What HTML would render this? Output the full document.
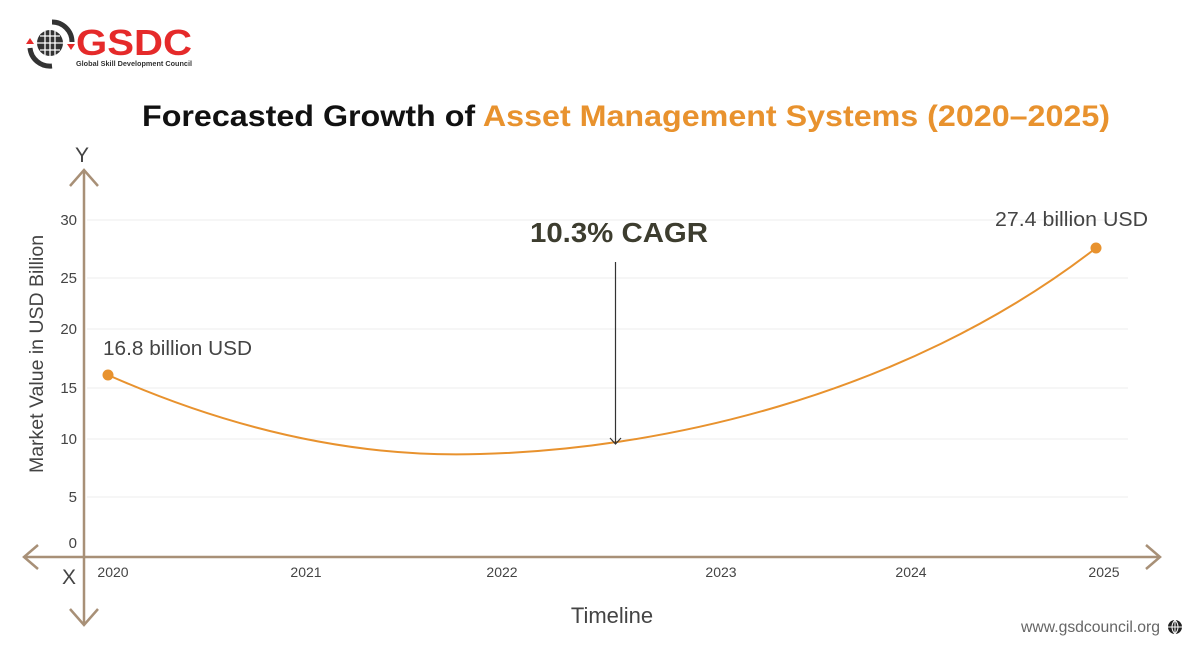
<!DOCTYPE html>
<html><head><meta charset="utf-8"><style>
html,body{margin:0;padding:0;background:#fff;}
body{width:1200px;height:650px;overflow:hidden;font-family:"Liberation Sans",sans-serif;}
</style></head><body>
<svg width="1200" height="650" viewBox="0 0 1200 650" xmlns="http://www.w3.org/2000/svg" font-family="Liberation Sans, sans-serif">
<!-- logo -->
<g>
<path d="M52,22 A20,20 0 0 1 72,42" fill="none" stroke="#333" stroke-width="5"/>
<path d="M30,48 A20,20 0 0 0 52,66" fill="none" stroke="#333" stroke-width="5"/>
<circle cx="50" cy="43" r="13" fill="#333"/>
<path d="M37,43h26M50,30v26M40,36h20M40,50h20M45,31v24M55,31v24" stroke="#fff" stroke-width="1.3" fill="none"/>
<polygon points="26,44 30,38 34,44" fill="#e52a2a"/>
<polygon points="67,44 75,44 71,50" fill="#e52a2a"/>
<text x="76" y="55" font-size="36" font-weight="bold" fill="#e52a2a" textLength="116" lengthAdjust="spacingAndGlyphs">GSDC</text>
<text x="76" y="66" font-size="7.5" font-weight="bold" fill="#333" textLength="116" lengthAdjust="spacingAndGlyphs">Global Skill Development Council</text>
</g>
<!-- title -->
<text x="142" y="126" font-size="30" font-weight="bold" fill="#111" textLength="968" lengthAdjust="spacingAndGlyphs">Forecasted Growth of <tspan fill="#e8922e">Asset Management Systems (2020–2025)</tspan></text>
<!-- gridlines -->
<g stroke="#ececec" stroke-width="1">
<line x1="87" y1="220" x2="1128" y2="220"/>
<line x1="87" y1="278" x2="1128" y2="278"/>
<line x1="87" y1="329" x2="1128" y2="329"/>
<line x1="87" y1="388" x2="1128" y2="388"/>
<line x1="87" y1="439" x2="1128" y2="439"/>
<line x1="87" y1="497" x2="1128" y2="497"/>
</g>
<!-- axes -->
<g stroke="#a89077" stroke-width="2.5" fill="none">
<line x1="84" y1="172" x2="84" y2="623"/>
<line x1="24" y1="557" x2="1160" y2="557"/>
<polyline points="70,186 84,170 98,186"/>
<polyline points="70,609 84,625 98,609"/>
<polyline points="38,545 24,557 38,569"/>
<polyline points="1146,545 1160,557 1146,569"/>
</g>
<text x="75" y="162" font-size="21" fill="#444">Y</text>
<text x="62" y="584" font-size="21" fill="#444">X</text>
<!-- y ticks -->
<g font-size="15" fill="#444" text-anchor="end">
<text x="77" y="225">30</text>
<text x="77" y="283">25</text>
<text x="77" y="334">20</text>
<text x="77" y="393">15</text>
<text x="77" y="444">10</text>
<text x="77" y="502">5</text>
<text x="77" y="548">0</text>
</g>
<text transform="translate(43,354) rotate(-90)" font-size="19.5" fill="#444" text-anchor="middle">Market Value in USD Billion</text>
<!-- x ticks -->
<g font-size="14" fill="#444" text-anchor="middle">
<text x="113" y="577">2020</text>
<text x="306" y="577">2021</text>
<text x="502" y="577">2022</text>
<text x="721" y="577">2023</text>
<text x="911" y="577">2024</text>
<text x="1104" y="577">2025</text>
</g>
<text x="612" y="623" font-size="22" fill="#444" text-anchor="middle">Timeline</text>
<!-- curve -->
<path d="M108,375 Q300,460 480,454 C650,450 900,400 1096,248" fill="none" stroke="#e8922e" stroke-width="2"/>
<circle cx="108" cy="375" r="5.5" fill="#e8922e"/>
<circle cx="1096" cy="248" r="5.5" fill="#e8922e"/>
<text x="103" y="355" font-size="20" fill="#444" textLength="149" lengthAdjust="spacingAndGlyphs">16.8 billion USD</text>
<text x="995" y="226" font-size="20" fill="#444" textLength="153" lengthAdjust="spacingAndGlyphs">27.4 billion USD</text>
<!-- CAGR -->
<text x="530" y="242" font-size="28" font-weight="bold" fill="#3d3d2f" textLength="178" lengthAdjust="spacingAndGlyphs">10.3% CAGR</text>
<line x1="615.5" y1="262" x2="615.5" y2="444" stroke="#333" stroke-width="1.2"/>
<polyline points="610,438 615.5,444 621,438" fill="none" stroke="#333" stroke-width="1.2"/>
<!-- footer -->
<text x="1021" y="632" font-size="16" fill="#666" textLength="139" lengthAdjust="spacingAndGlyphs">www.gsdcouncil.org</text>
<circle cx="1175" cy="627" r="7" fill="#222"/>
<path d="M1168,627h14M1175,620v14M1175,620c-4,4-4,10,0,14M1175,620c4,4,4,10,0,14" stroke="#fff" stroke-width="1" fill="none"/>
</svg>
</body></html>
